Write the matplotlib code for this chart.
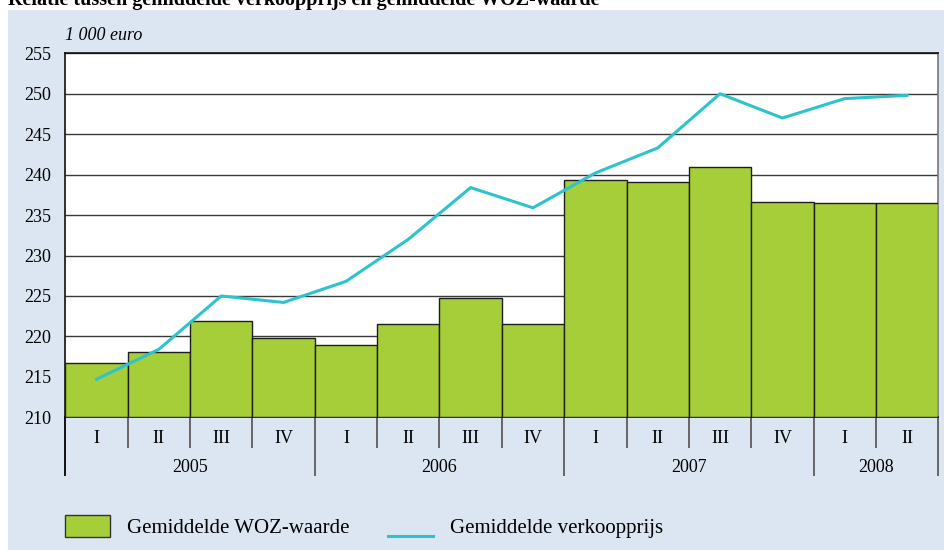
import numpy as np
import matplotlib.pyplot as plt
from matplotlib.patches import Rectangle
from matplotlib.lines import Line2D
from matplotlib.legend_handler import HandlerLine2D

# kwartalen 2005-I t/m 2008-II, bedragen in 1 000 euro
quarters = ["I", "II", "III", "IV"] * 3 + ["I", "II"]
years = ["2005", "2006", "2007", "2008"]
year_quarters = [4, 4, 4, 2]
woz = [216.7, 218.1, 221.9, 219.8, 218.9, 221.5, 224.8, 221.5,
       239.3, 239.1, 241.0, 236.6, 236.5, 236.5]
verkoop = [214.7, 218.4, 225.0, 224.2, 226.8, 232.0, 238.4, 235.9,
           240.2, 243.3, 250.0, 247.0, 249.4, 249.8]

green = "#a6ce39"
cyan = "#2dc3cc"
panel = "#dbe6f2"

plt.rcParams["font.family"] = ["Liberation Serif", "DejaVu Serif"]


class BottomLine(HandlerLine2D):
    # legendalijn onderaan het handle-vak in plaats van in het midden
    def create_artists(self, legend, orig_handle, xdescent, ydescent,
                       width, height, fontsize, trans):
        artists = super().create_artists(legend, orig_handle, xdescent, ydescent,
                                         width, height, fontsize, trans)
        for a in artists:
            a.set_ydata(np.full(len(a.get_xdata()), -ydescent + 1.0))
        return artists


W, H = 945, 550
fig = plt.figure(figsize=(W / 100, H / 100), dpi=100)
fig.patch.set_facecolor("white")
fig.patches.append(Rectangle((8 / W, 0), 1, 1 - 10 / H, transform=fig.transFigure,
                             facecolor=panel, edgecolor="none", zorder=-10))

fig.text(8 / W, 1 - 5 / H, "Relatie tussen gemiddelde verkoopprijs en gemiddelde WOZ-waarde",
         fontsize=14.5, fontweight="bold", va="baseline", ha="left")

left, right, top, bottom = 65.3, 938.3, 53.3, 417.3
ax = fig.add_axes([left / W, 1 - bottom / H, (right - left) / W, (bottom - top) / H])
ax.set_facecolor("white")

x = np.arange(len(woz))
ax.bar(x, np.array(woz) - 210, width=1.0, bottom=210, color=green,
       edgecolor="#1e1e1e", linewidth=1.0, zorder=3)
ax.plot(x, verkoop, color=cyan, linewidth=2.2, zorder=4)

ax.set_xlim(-0.5, len(woz) - 0.5)
ax.set_ylim(210, 255)
ax.set_yticks(np.arange(210, 256, 5))
ax.yaxis.grid(True, color="#3a3a3a", linewidth=1.0)
ax.set_axisbelow(True)
ax.tick_params(axis="y", length=0, pad=10, labelsize=13)
ax.set_xticks(x)
ax.set_xticklabels(quarters)
ax.tick_params(axis="x", length=0, pad=9, labelsize=13)

for side in ["left", "top", "bottom"]:
    ax.spines[side].set_color("#111111")
    ax.spines[side].set_linewidth(1.2)
ax.spines["right"].set_color("#777777")
ax.spines["right"].set_linewidth(1.2)

ax.text(0, 1.025, "1 000 euro", transform=ax.transAxes, fontsize=13,
        style="italic", ha="left", va="bottom")

# scheidingslijnen onder de as
axh = bottom - top
trans = ax.get_xaxis_transform()
short = -30 / axh
long_ = -58 / axh
edges = np.cumsum([0] + year_quarters) - 0.5
for b in np.arange(-0.5, len(woz)):
    y_end = long_ if b in edges else short
    col = "#111111" if b == -0.5 else "#666666"
    ax.add_line(Line2D([b, b], [0, y_end], transform=trans, color=col,
                       linewidth=1.4, clip_on=False))

for yr, lo, n in zip(years, edges[:-1], year_quarters):
    ax.text(lo + n / 2, -50 / axh, yr, transform=trans, fontsize=13,
            ha="center", va="center")

line_handle = Line2D([], [], color=cyan, linewidth=2.2)
handles = [Rectangle((0, 0), 1, 1, facecolor=green, edgecolor="#333333", linewidth=1.0),
           line_handle]
fig.legend(handles, ["Gemiddelde WOZ-waarde", "Gemiddelde verkoopprijs"],
           handler_map={line_handle: BottomLine()},
           loc="lower left", bbox_to_anchor=(65 / W, 12 / H), borderpad=0,
           borderaxespad=0, ncol=2, frameon=False,
           fontsize=15, handlelength=2.16, handleheight=1.3, handletextpad=0.82,
           columnspacing=1.82)

fig.savefig("out.png", dpi=100, facecolor=fig.get_facecolor())
